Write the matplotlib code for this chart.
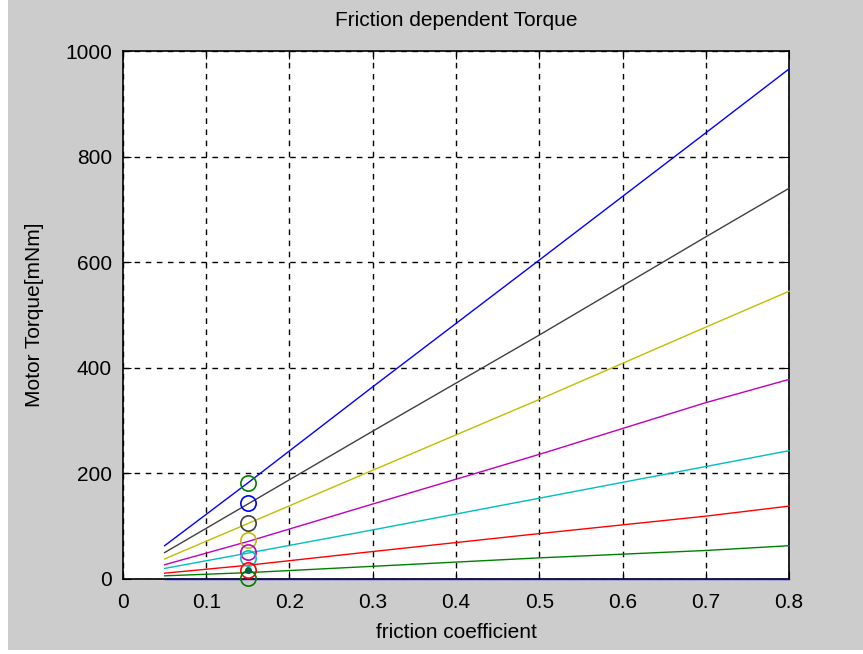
import matplotlib.pyplot as plt
from matplotlib.patches import Rectangle

plt.rcParams['font.family'] = ['Liberation Sans', 'DejaVu Sans']

# friction coefficient samples and torque [mNm]
mu = [0.05, 0.15, 0.3, 0.5, 0.7, 0.8]
t_blue_top = [63, 182, 364, 604, 845, 966]
t_gray = [50, 142, 280, 462, 648, 740]
t_yellow = [38, 105, 206, 340, 477, 545]
t_magenta = [27, 71, 142, 236, 334, 378]
t_cyan = [20, 49, 93, 153, 213, 243]
t_red = [11, 26, 52, 86, 119, 138]
t_green = [6, 12, 24, 40, 54, 63]
t_blue_zero = [0, 0, 0, 0, 0, 0]

# operating point markers at mu = 0.15
mu_op = 0.15
op_vals = [182, 144, 106, 74, 52, 40, 17, 2]
op_cols = ['#008000', '#0000ff', '#404040', '#bfbf00', '#bf00bf', '#00bfbf', '#ff0000', '#008000']
dot_val = 17

fig = plt.figure(figsize=(8.63, 6.54), dpi=100)
fig.patch.set_facecolor('white')
fig.patches.append(Rectangle((0.009, 0.006), 1.0, 1.0, transform=fig.transFigure,
                             facecolor='#cccccc', edgecolor='none', zorder=-10))
ax = fig.add_axes([0.1425, 0.1147, 0.7718, 0.8073])

series = [
    (t_blue_top, '#0000ff'),
    (t_gray, '#404040'),
    (t_yellow, '#bfbf00'),
    (t_magenta, '#bf00bf'),
    (t_cyan, '#00bfbf'),
    (t_red, '#ff0000'),
    (t_green, '#008000'),
    (t_blue_zero, '#0000ff'),
]
for vals, col in series:
    ax.plot(mu, vals, color=col, lw=1.0, clip_on=False, zorder=3)

for v, c in zip(op_vals, op_cols):
    ax.plot(mu_op, v, 'o', mfc='none', mec=c, ms=11, mew=1.2, clip_on=False, zorder=4)
ax.plot(mu_op, dot_val, 'o', color='#006040', ms=4, zorder=5)

ax.set_xlim(0, 0.8)
ax.set_ylim(0, 1000)
ax.set_xticks([0, 0.1, 0.2, 0.3, 0.4, 0.5, 0.6, 0.7, 0.8])
ax.set_xticklabels(['0', '0.1', '0.2', '0.3', '0.4', '0.5', '0.6', '0.7', '0.8'])
ax.set_yticks([0, 200, 400, 600, 800, 1000])
ax.grid(True, color='black', linestyle=(0, (4, 4)), lw=1.0)
ax.tick_params(direction='in', top=True, right=True, length=6, labelsize=15)
ax.tick_params(axis='x', pad=10)
ax.tick_params(axis='y', pad=8)
for s in ax.spines.values():
    s.set_linewidth(1.2)

ax.set_title('Friction dependent Torque', fontsize=15, pad=18)
ax.set_xlabel('friction coefficient', fontsize=15, labelpad=8)
ax.set_ylabel('Motor Torque[mNm]', fontsize=15, labelpad=15)

fig.savefig('out.png', dpi=100)
